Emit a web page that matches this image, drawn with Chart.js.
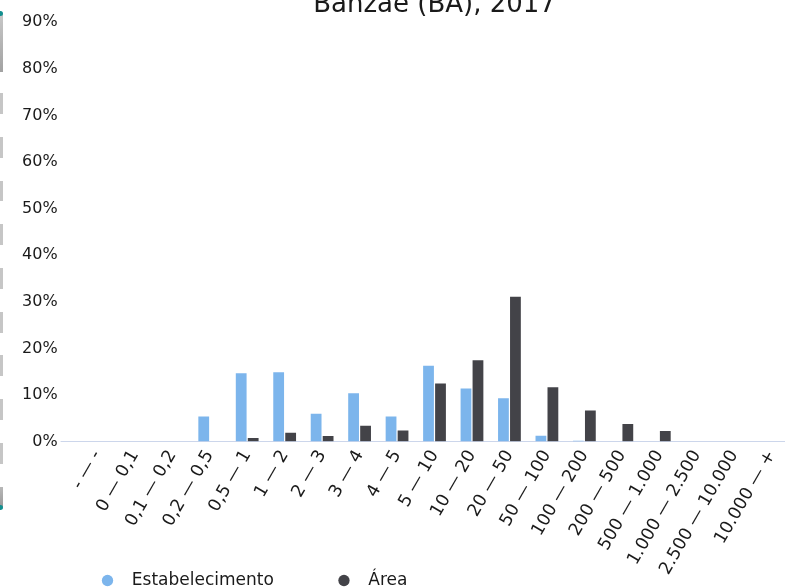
<!DOCTYPE html>
<html>
<head>
<meta charset="utf-8">
<title>Banzaê (BA), 2017</title>
<script src="https://cdn.jsdelivr.net/npm/chart.js@4"></script>
<style>
  html, body { margin: 0; padding: 0; background: #fff; overflow: hidden; width: 785px; height: 588px; }
  #wrap { position: absolute; left: 0; top: -20px; width: 795px; height: 620px; }
  .edge { position: absolute; left: 0; width: 3px; }
  #edgeTop { top: 13px; height: 59px; background: linear-gradient(#c8c8c8, #a2a2a2); }
  #edgeDash { top: 93px; height: 372px; background: repeating-linear-gradient(to bottom, #c6c6c6 0, #c6c6c6 21px, transparent 21px, transparent 43.75px); }
  #edgeBot { top: 487px; height: 20px; background: linear-gradient(#b8b8b8, #9a9a9a); }
  .dot { position: absolute; left: -2px; width: 5px; height: 5px; border-radius: 50%; background: #138f8f; }
</style>
</head>
<body>
<div class="edge" id="edgeTop"></div>
<div class="edge" id="edgeDash"></div>
<div class="edge" id="edgeBot"></div>
<div class="dot" style="top:11px"></div>
<div class="dot" style="top:505px"></div>
<div id="wrap"><canvas id="grafico"></canvas></div>
<script>
// Dados //
var titulo = 'Banzaê (BA), 2017';
var categorias = ['- — -', '0 — 0,1', '0,1 — 0,2', '0,2 — 0,5', '0,5 — 1', '1 — 2', '2 — 3', '3 — 4', '4 — 5',
    '5 — 10', '10 — 20', '20 — 50', '50 — 100', '100 — 200', '200 — 500', '500 — 1.000',
    '1.000 — 2.500', '2.500 — 10.000', '10.000 — +'];
var estabelecimento = [0, 0, 0, 5.4, 14.7, 14.9, 6.0, 10.4, 5.4, 16.3, 11.4, 9.3, 1.3, 0.2, 0, 0, 0, 0, 0];
var area = [0, 0, 0, 0, 0.8, 1.9, 1.2, 3.4, 2.4, 12.5, 17.5, 31.1, 11.7, 6.7, 3.8, 2.3, 0, 0, 0];
var yMax = 90;
var yPasso = 10;

Chart.defaults.font.family = "'DejaVu Sans', sans-serif";
Chart.defaults.color = '#1a1a1a';

// sem recorte dos rotulos na caixa do eixo //
function semRecorte(s) {
    s._computeLabelArea = function() { return null; };
}

var ctx = document.getElementById('grafico').getContext('2d');
var chart = new Chart(ctx, {
    type: 'bar',
    data: {
        labels: categorias,
        datasets: [{
            label: 'Estabelecimento',
            data: estabelecimento,
            backgroundColor: '#7cb5ec',
            borderWidth: 0
        }, {
            label: 'Área',
            data: area,
            backgroundColor: '#434348',
            borderWidth: 0
        }]
    },
    options: {
        responsive: true,
        maintainAspectRatio: false,
        animation: false,
        categoryPercentage: 0.64,
        barPercentage: 0.9,
        layout: { padding: { left: 20, right: 3.4, top: 0, bottom: 1 } },
        plugins: {
            tooltip: { enabled: false },
            title: {
                display: true,
                text: titulo,
                fullSize: false,
                color: '#1a1a1a',
                font: { size: 26, weight: 'normal' },
                padding: { top: 9.5, bottom: 1.5 }
            },
            legend: {
                position: 'bottom',
                align: 'start',
                fullSize: false,
                labels: {
                    usePointStyle: true,
                    pointStyle: 'circle',
                    boxHeight: 8,
                    boxWidth: 10,
                    padding: 23.9,
                    color: '#1a1a1a',
                    font: { size: 17 },
                    generateLabels: function(c) {
                        var items = Chart.defaults.plugins.legend.labels.generateLabels(c);
                        items.forEach(function(it, i) {
                            it.text = '  ' + it.text + (i === 0 ? '       \u2009' : '');
                        });
                        return items;
                    }
                }
            }
        },
        scales: {
            x: {
                grid: { display: false, drawTicks: false },
                border: { display: true, color: '#ccd6eb', width: 1 },
                ticks: {
                    autoSkip: false,
                    minRotation: 60,
                    maxRotation: 60,
                    padding: 5,
                    color: '#1a1a1a',
                    font: { size: 17.5 }
                },
                afterFit: function(s) { s.height = 106.4; semRecorte(s); }
            },
            y: {
                min: 0,
                max: yMax,
                border: { display: false },
                grid: {
                    drawOnChartArea: false,
                    drawTicks: true,
                    tickLength: 18,
                    color: function(c) {
                        return (c.tick && c.tick.value === 0) ? '#ccd6eb' : 'rgba(0,0,0,0)';
                    }
                },
                ticks: {
                    stepSize: yPasso,
                    padding: 3,
                    color: '#1a1a1a',
                    font: { size: 16 },
                    callback: function(v) { return v + '%'; }
                },
                afterFit: function(s) { s.width = 58.6; semRecorte(s); }
            }
        }
    }
});
</script>
</body>
</html>
